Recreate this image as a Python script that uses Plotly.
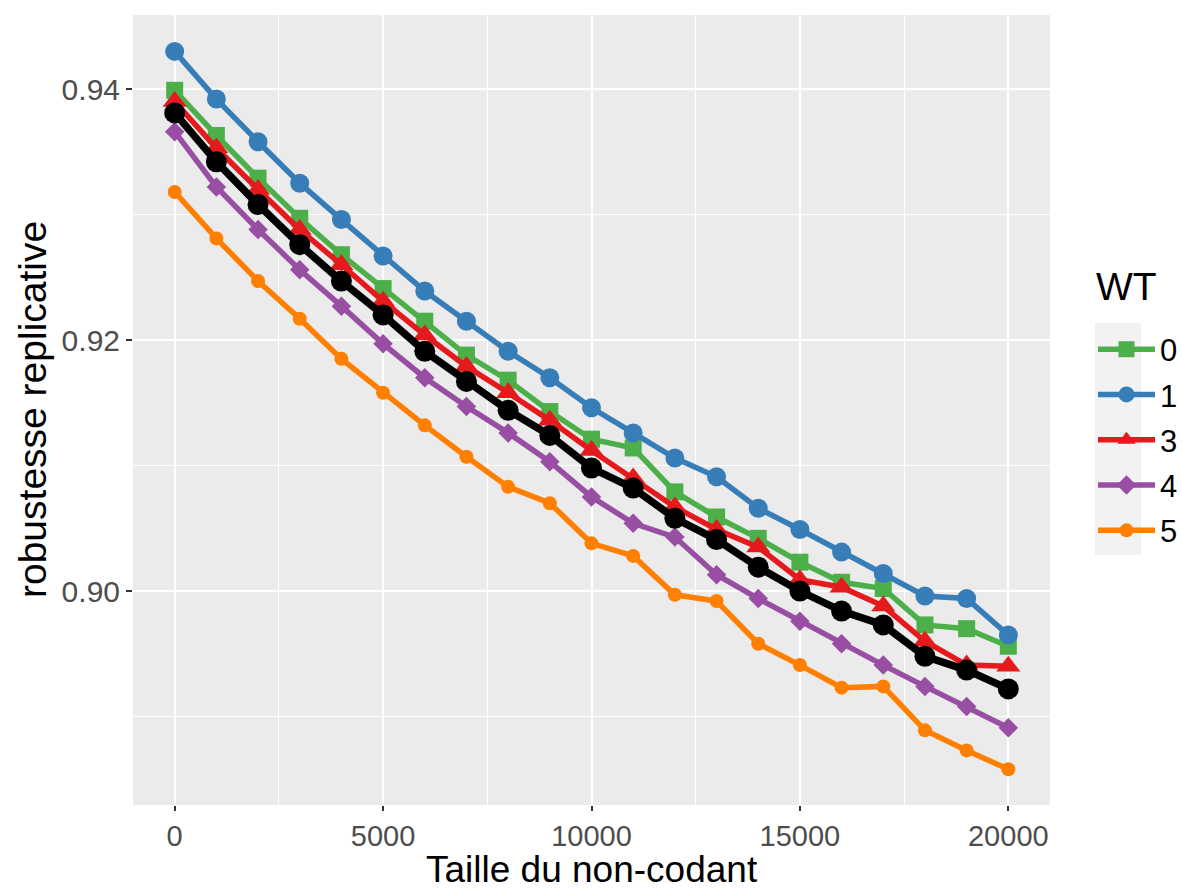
import plotly.graph_objects as go

x = [i * 1000 for i in range(21)]

wt0 = [0.9399, 0.9363, 0.9329, 0.9297, 0.9268, 0.9241, 0.9215, 0.9188, 0.9168, 0.9143, 0.9121,
       0.9114, 0.9079, 0.9059, 0.9042, 0.9023, 0.9007, 0.9002, 0.8973, 0.8970, 0.8956]
wt1 = [0.9430, 0.9392, 0.9358, 0.9325, 0.9296, 0.9267, 0.9239, 0.9215, 0.9191, 0.9170, 0.9146,
       0.9126, 0.9106, 0.9091, 0.9066, 0.9049, 0.9031, 0.9014, 0.8996, 0.8994, 0.8965]
wt3 = [0.9390, 0.9353, 0.9320, 0.9288, 0.9260, 0.9231, 0.9204, 0.9179, 0.9158, 0.9136, 0.9112,
       0.9090, 0.9067, 0.9049, 0.9035, 0.9009, 0.9003, 0.8988, 0.8960, 0.8941, 0.8940]
wt4 = [0.9366, 0.9322, 0.9288, 0.9256, 0.9227, 0.9197, 0.9170, 0.9147, 0.9126, 0.9103, 0.9075,
       0.9054, 0.9043, 0.9013, 0.8994, 0.8976, 0.8958, 0.8941, 0.8924, 0.8908, 0.8891]
wt5 = [0.9318, 0.9281, 0.9247, 0.9217, 0.9185, 0.9158, 0.9132, 0.9107, 0.9083, 0.9070, 0.9038,
       0.9028, 0.8997, 0.8992, 0.8958, 0.8941, 0.8923, 0.8924, 0.8889, 0.8873, 0.8858]
mean_wt = [0.9381, 0.9342, 0.9308, 0.9276, 0.9247, 0.9220, 0.9191, 0.9167, 0.9144, 0.9124, 0.9098,
           0.9082, 0.9058, 0.9041, 0.9019, 0.9000, 0.8984, 0.8973, 0.8948, 0.8937, 0.8922]

series_names = ["0", "1", "3", "4", "5"]
series_values = [wt0, wt1, wt3, wt4, wt5]
colors = ["#4DAF4A", "#377EB8", "#E41A1C", "#984EA3", "#FF7F00"]
symbols = ["square", "circle", "triangle-up", "diamond", "circle"]
msizes = [17, 19, 21, 15, 14]

FONT = "Liberation Sans, Arial, sans-serif"
W, H = 1182, 889
L, R, T, B = 133, 132, 15, 84
PW, PH = W - L - R, H - T - B


def px_x(px):
    return (px - L) / PW


def px_y(py):
    return (H - B - py) / PH


fig = go.Figure()
for name, vals, c, s, ms in zip(series_names, series_values, colors, symbols, msizes):
    fig.add_trace(go.Scatter(
        x=x, y=vals, name=name, mode="lines+markers", legendgroup=name,
        line=dict(color=c, width=5.5),
        marker=dict(color=c, symbol=s, size=ms, line=dict(width=0)),
    ))

fig.add_trace(go.Scatter(
    x=x, y=mean_wt, name="mean", mode="lines+markers", showlegend=False,
    line=dict(color="black", width=7.5),
    marker=dict(color="black", symbol="circle", size=21, line=dict(width=0)),
))

# grey background behind the legend keys (ggplot legend.key)
fig.add_shape(type="rect", xref="paper", yref="paper",
              x0=px_x(1095), x1=px_x(1141), y0=px_y(555), y1=px_y(323),
              fillcolor="#F2F2F2", line=dict(width=0), layer="below")

fig.add_annotation(text="WT", xref="paper", yref="paper",
                   x=px_x(1094), y=px_y(287), xanchor="left", yanchor="middle",
                   showarrow=False, font=dict(size=39, color="black", family=FONT))

fig.add_annotation(text="Taille du non-codant", xref="paper", yref="paper",
                   x=px_x(592), y=px_y(869), xanchor="center", yanchor="middle",
                   showarrow=False, font=dict(size=37, color="black", family=FONT))

fig.add_annotation(text="robustesse replicative", xref="paper", yref="paper",
                   x=px_x(32), y=0.5, xanchor="center", yanchor="middle", textangle=-90,
                   showarrow=False, font=dict(size=39, color="black", family=FONT))

fig.update_layout(
    width=W, height=H,
    margin=dict(l=L, r=R, t=T, b=B),
    paper_bgcolor="white",
    plot_bgcolor="#EBEBEB",
    font=dict(family=FONT, color="black"),
    showlegend=True,
    legend=dict(
        font=dict(size=31, color="black"),
        xref="container", yref="container",
        x=1093 / W, xanchor="left", y=(H - 440) / H, yanchor="middle",
        bgcolor="rgba(0,0,0,0)",
        tracegroupgap=2,
        itemwidth=57,
    ),
    xaxis=dict(
        range=[-1000, 21000], automargin=False,
        tickmode="array", tickvals=[0, 5000, 10000, 15000, 20000],
        ticktext=["0", "5000", "10000", "15000", "20000"],
        showgrid=True, gridcolor="white", gridwidth=2.2,
        minor=dict(tickvals=[2500, 7500, 12500, 17500], showgrid=True, gridcolor="white", gridwidth=1.1),
        ticks="outside", ticklen=5, tickwidth=1.5, tickcolor="#333333",
        tickfont=dict(size=29, color="#4D4D4D"),
        zeroline=False, showline=False,
    ),
    yaxis=dict(
        range=[0.88295, 0.9459], automargin=False,
        tickmode="array", tickvals=[0.90, 0.92, 0.94],
        ticktext=["0.90", "0.92", "0.94"],
        showgrid=True, gridcolor="white", gridwidth=2.2,
        minor=dict(tickvals=[0.89, 0.91, 0.93], showgrid=True, gridcolor="white", gridwidth=1.1),
        ticks="outside", ticklen=6, tickwidth=1.5, tickcolor="#333333",
        tickfont=dict(size=30, color="#4D4D4D"),
        zeroline=False, showline=False,
    ),
)

fig.write_html("out.html")
